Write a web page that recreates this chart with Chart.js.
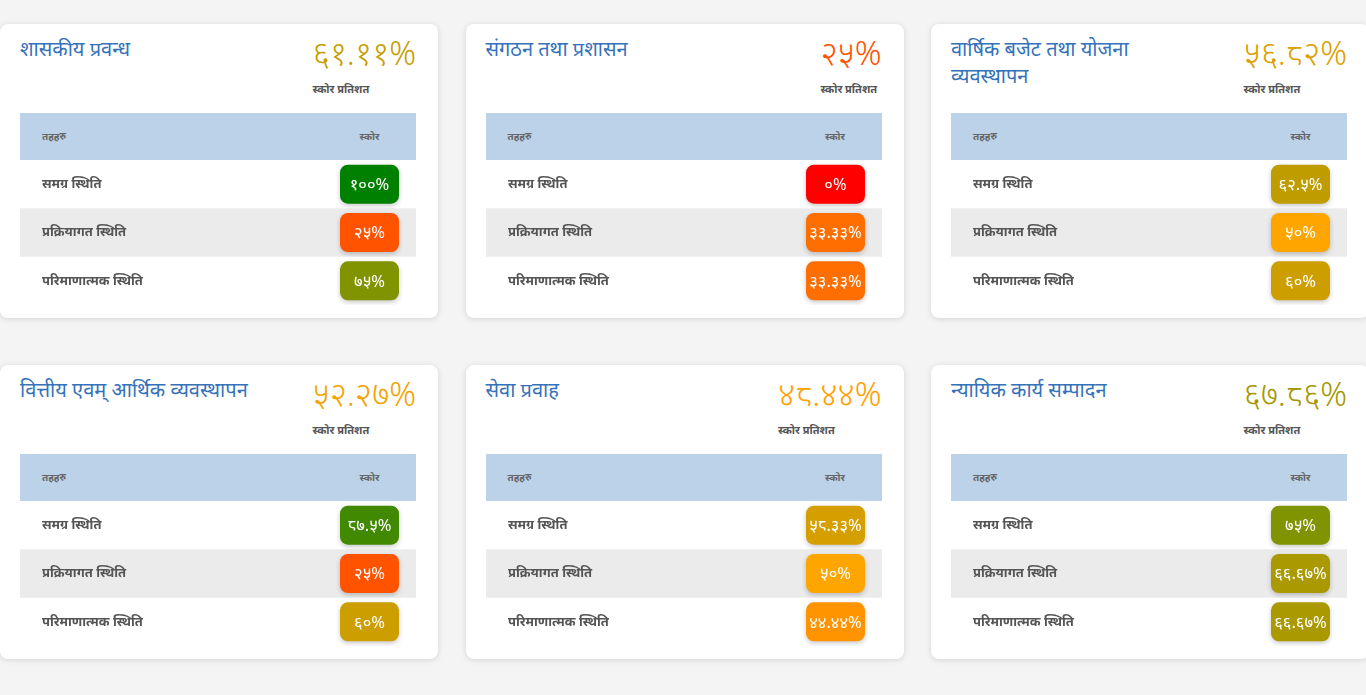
<!DOCTYPE html>
<html lang="ne">
<head>
<meta charset="utf-8">
<title>स्कोर प्रतिशत</title>
<script src="https://cdn.jsdelivr.net/npm/chart.js@4.4.1/dist/chart.umd.min.js"></script>
<style>
  body { margin: 0; width: 1366px; height: 695px; overflow: hidden; background: #f4f4f4;
         font-family: "Noto Sans", "DejaVu Sans", sans-serif; position: relative; }
  .grid { position: absolute; left: 0; top: 24px; display: grid;
          grid-template-columns: repeat(3, 438px); column-gap: 27.5px; row-gap: 47px; }
  .card { position: relative; height: 294px; background: #fff; border-radius: 8px;
          box-shadow: 0 1px 6px rgba(0,0,0,0.13); }
  .title { position: absolute; left: 20px; top: 11px; width: 235px; font-size: 20px;
           line-height: 27px; color: #3572b9; }
  .score { position: absolute; right: 22px; top: 8px; }
  .score .pct { font-size: 33px; font-weight: 300; line-height: 42px; }
  .score .sub { font-size: 11px; font-weight: bold; color: #555; margin-top: 7px; }
  .thead { position: absolute; left: 20px; top: 89px; width: 396px; height: 47px;
           background: #bcd2e8; font-size: 10px; font-weight: bold; color: #666; }
  .thead span { position: absolute; top: 16px; }
  .thead .c1 { left: 22px; }
  .thead .c2 { right: 17px; width: 59px; text-align: center; }
  .tbody { position: absolute; left: 20px; top: 136px; width: 396px; height: 145px; }
</style>
</head>
<body>
<div class="grid" id="grid"></div>
<script>
// कार्यक्षेत्रहरु
const sections = [
  'शासकीय प्रवन्ध',
  'संगठन तथा प्रशासन',
  'वार्षिक बजेट तथा योजना व्यवस्थापन',
  'वित्तीय एवम् आर्थिक व्यवस्थापन',
  'सेवा प्रवाह',
  'न्यायिक कार्य सम्पादन'
];
const sectionPct = [61.11, 25, 56.82, 52.27, 48.44, 67.86];

// तहहरु
const levels = ['समग्र स्थिति', 'प्रक्रियागत स्थिति', 'परिमाणात्मक स्थिति'];
const overallScores = [100, 0, 62.5, 87.5, 58.33, 75];
const processScores = [25, 33.33, 50, 25, 50, 66.67];
const quantScores = [75, 33.33, 60, 60, 44.44, 66.67];

const NP_DIGITS = '०१२३४५६७८९';
function toNepali(v) {
  return String(Math.round(v * 100) / 100).replace(/\d/g, d => NP_DIGITS[d]) + '%';
}

// red -> orange -> green
function scoreColor(v) {
  let r, g;
  if (v <= 50) { r = 255; g = 165 * v / 50; }
  else { const t = (v - 50) / 50; r = 255 * (1 - t); g = 165 - 37 * t; }
  return `rgb(${Math.round(r)},${Math.round(g)},0)`;
}

const rowStripes = {
  id: 'rowStripes',
  beforeDraw(chart) {
    const { ctx, scales: { y } } = chart;
    const n = chart.data.labels.length;
    const h = (y.bottom - y.top) / n;
    for (let i = 1; i < n; i += 2) {
      const c = y.getPixelForValue(i);
      ctx.save();
      ctx.fillStyle = '#ebebeb';
      ctx.fillRect(0, c - h / 2, chart.width, h);
      ctx.restore();
    }
  }
};

const badges = {
  id: 'badges',
  afterDatasetsDraw(chart) {
    const { ctx } = chart;
    const vals = chart.data.datasets[0].data;
    chart.getDatasetMeta(0).data.forEach((bar, i) => {
      const w = 59, h = 39, x = chart.width - 17 - w, y0 = bar.y - h / 2;
      ctx.save();
      ctx.shadowColor = 'rgba(0,0,0,0.22)';
      ctx.shadowBlur = 5; ctx.shadowOffsetY = 2;
      ctx.fillStyle = scoreColor(vals[i]);
      ctx.beginPath(); ctx.roundRect(x, y0, w, h, 8); ctx.fill();
      ctx.restore();
      ctx.save();
      ctx.fillStyle = '#fff';
      ctx.font = '16.5px "Noto Sans", sans-serif';
      ctx.textAlign = 'center'; ctx.textBaseline = 'middle';
      ctx.fillText(toNepali(vals[i]), x + w / 2, bar.y + 1);
      ctx.restore();
    });
  }
};

const grid = document.getElementById('grid');
sections.forEach((name, k) => {
  const card = document.createElement('div');
  card.className = 'card';
  card.innerHTML = `
    <div class="title">${name}</div>
    <div class="score"><div class="pct" style="color:${scoreColor(sectionPct[k])}">${toNepali(sectionPct[k])}</div>
      <div class="sub">स्कोर प्रतिशत</div></div>
    <div class="thead"><span class="c1">तहहरु</span><span class="c2">स्कोर</span></div>
    <div class="tbody"><canvas width="396" height="145"></canvas></div>`;
  grid.appendChild(card);

  new Chart(card.querySelector('canvas'), {
    type: 'bar',
    data: {
      labels: levels,
      datasets: [{
        data: [overallScores[k], processScores[k], quantScores[k]],
        backgroundColor: 'rgba(0,0,0,0)'
      }]
    },
    options: {
      indexAxis: 'y', responsive: false, animation: false,
      layout: { padding: { left: 22, top: 0, right: 0, bottom: 0 } },
      plugins: { legend: { display: false }, tooltip: { enabled: false } },
      scales: {
        x: { display: false, min: 0, max: 100 },
        y: {
          grid: { display: false }, border: { display: false },
          afterFit(scale) { scale.paddingTop = 0; scale.paddingBottom = 0; },
          ticks: { crossAlign: 'far', autoSkip: false, color: '#555',
                   font: { family: 'Noto Sans', size: 13, weight: 'bold' } }
        }
      }
    },
    plugins: [rowStripes, badges]
  });
});
</script>
</body>
</html>
